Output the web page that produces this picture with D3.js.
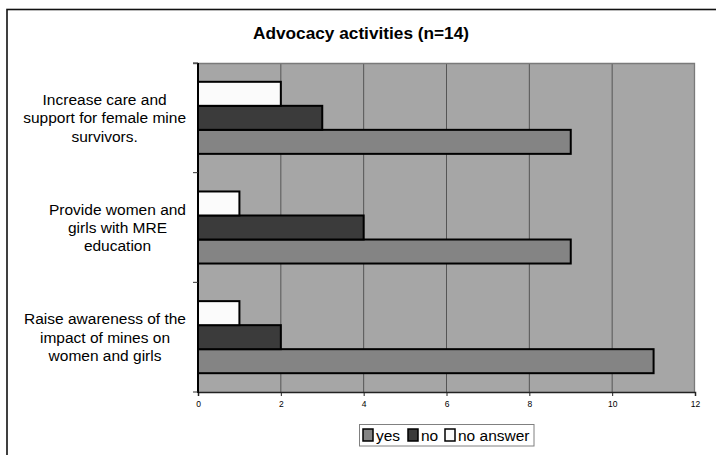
<!DOCTYPE html>
<html><head><meta charset="utf-8">
<script src="https://cdn.jsdelivr.net/npm/d3@7"></script>
<style>body{margin:0;background:#fff}svg{display:block}</style>
</head><body><svg id="c" width="716" height="455"></svg>
<script>
const title = "Advocacy activities (n=14)";
const categories = [
  "Increase care and\nsupport for female mine\nsurvivors.",
  "Provide women and\ngirls with MRE\neducation",
  "Raise awareness of the\nimpact of mines on\nwomen and girls"
];
const seriesNames = ["yes", "no", "no answer"];
const yesValues = [9, 9, 11];
const noValues = [3, 4, 2];
const noAnswerValues = [2, 1, 1];
const xTicks = [0, 2, 4, 6, 8, 10, 12];

const seriesValues = {"yes": yesValues, "no": noValues, "no answer": noAnswerValues};
const colors = {"yes": "#848484", "no": "#3b3b3b", "no answer": "#fbfbfb"};

const svg = d3.select("#c");
const L = 198, R = 695, T = 63, B = 392;

// outer border
svg.append("rect").attr("x", 7).attr("y", 9.5).attr("width", 760).attr("height", 500)
  .attr("fill", "none").attr("stroke", "#111").attr("stroke-width", 1.6);

// title
svg.append("text").attr("x", 361).attr("y", 39).attr("text-anchor", "middle")
  .attr("font-family", "Liberation Sans, Arial, sans-serif").attr("font-weight", "bold")
  .attr("font-size", 17).attr("fill", "#000")
  .attr("textLength", 216).attr("lengthAdjust", "spacingAndGlyphs").text(title);

const x = d3.scaleLinear().domain([0, 12]).range([L, R]);
const y0 = d3.scaleBand().domain(categories).range([T, B]).paddingInner(0.343).paddingOuter(0.1715);
const yStep = y0.step();
const y1 = d3.scaleBand().domain(["no answer", "no", "yes"]).range([0, y0.bandwidth()]).padding(0);

// plot background
svg.append("rect").attr("x", L).attr("y", T).attr("width", R - L).attr("height", B - T)
  .attr("fill", "#a6a6a6");

// gridlines
svg.append("g").selectAll("line").data(xTicks.filter(d => d > 0 && d < 12)).join("line")
  .attr("x1", d => x(d)).attr("x2", d => x(d)).attr("y1", T).attr("y2", B)
  .attr("stroke", "#555").attr("stroke-width", 1);

// top / right border of plot
svg.append("path").attr("d", `M${L - 5},${T + 0.5}H${R - 0.5}V${B}`)
  .attr("fill", "none").attr("stroke", "#7a7a7a").attr("stroke-width", 1.3);

// bars
const groups = svg.append("g").selectAll("g").data(categories).join("g")
  .attr("transform", d => `translate(0,${y0(d)})`);
groups.selectAll("rect").data((d, i) => seriesNames.map(s => ({s, v: seriesValues[s][i]}))).join("rect")
  .attr("x", x(0)).attr("y", d => y1(d.s))
  .attr("width", d => x(d.v) - x(0)).attr("height", y1.bandwidth())
  .attr("fill", d => colors[d.s]).attr("stroke", "#000").attr("stroke-width", 2);

// x axis
const xAxis = svg.append("g").attr("transform", `translate(0,${B})`)
  .call(d3.axisBottom(x).tickValues(xTicks).tickSize(4).tickPadding(5).tickFormat(d3.format("d")));
xAxis.select(".domain").attr("stroke", "#222").attr("stroke-width", 1.5);
xAxis.selectAll(".tick line").attr("stroke", "#222");
xAxis.selectAll("text").attr("font-family", "Liberation Sans, Arial, sans-serif").attr("font-size", 8.5).attr("fill", "#000");

// y axis line and category ticks
svg.append("line").attr("x1", L).attr("x2", L).attr("y1", T).attr("y2", B + 1)
  .attr("stroke", "#000").attr("stroke-width", 2);
const edgeTicks = d3.range(categories.length + 1).map(i => T + i * yStep);
svg.append("g").selectAll("line").data(edgeTicks).join("line")
  .attr("x1", L - 5).attr("x2", L).attr("y1", d => d).attr("y2", d => d)
  .attr("stroke", "#333").attr("stroke-width", 1);

// category labels: lines centered within a block right-aligned to the axis
const labelRight = 186;
const lh = 18.2;
categories.forEach(c => {
  const lines = c.split("\n");
  const cy = y0(c) + y0.bandwidth() / 2;
  const g = svg.append("g");
  const texts = lines.map((ln, i) => g.append("text")
    .attr("y", cy + (i - (lines.length - 1) / 2) * lh + 5.5)
    .attr("text-anchor", "middle")
    .attr("font-family", "Liberation Sans, Arial, sans-serif").attr("font-size", 15.5)
    .attr("fill", "#000").text(ln));
  const maxW = d3.max(texts, t => t.node().getComputedTextLength());
  texts.forEach(t => t.attr("x", labelRight - maxW / 2));
});

// legend
const lg = svg.append("g");
lg.append("rect").attr("x", 359.5).attr("y", 424.5).attr("width", 174.5).attr("height", 21.5)
  .attr("fill", "#fff").attr("stroke", "#808080").attr("stroke-width", 1);
const legendX = {"yes": 363, "no": 408, "no answer": 445};
seriesNames.forEach(s => {
  lg.append("rect").attr("x", legendX[s]).attr("y", 429).attr("width", 10).attr("height", 12)
    .attr("fill", colors[s]).attr("stroke", "#000").attr("stroke-width", 1.5);
  lg.append("text").attr("x", legendX[s] + 13).attr("y", 441)
    .attr("font-family", "Liberation Sans, Arial, sans-serif").attr("font-size", 15.5)
    .attr("fill", "#000").text(s);
});
</script></body></html>
